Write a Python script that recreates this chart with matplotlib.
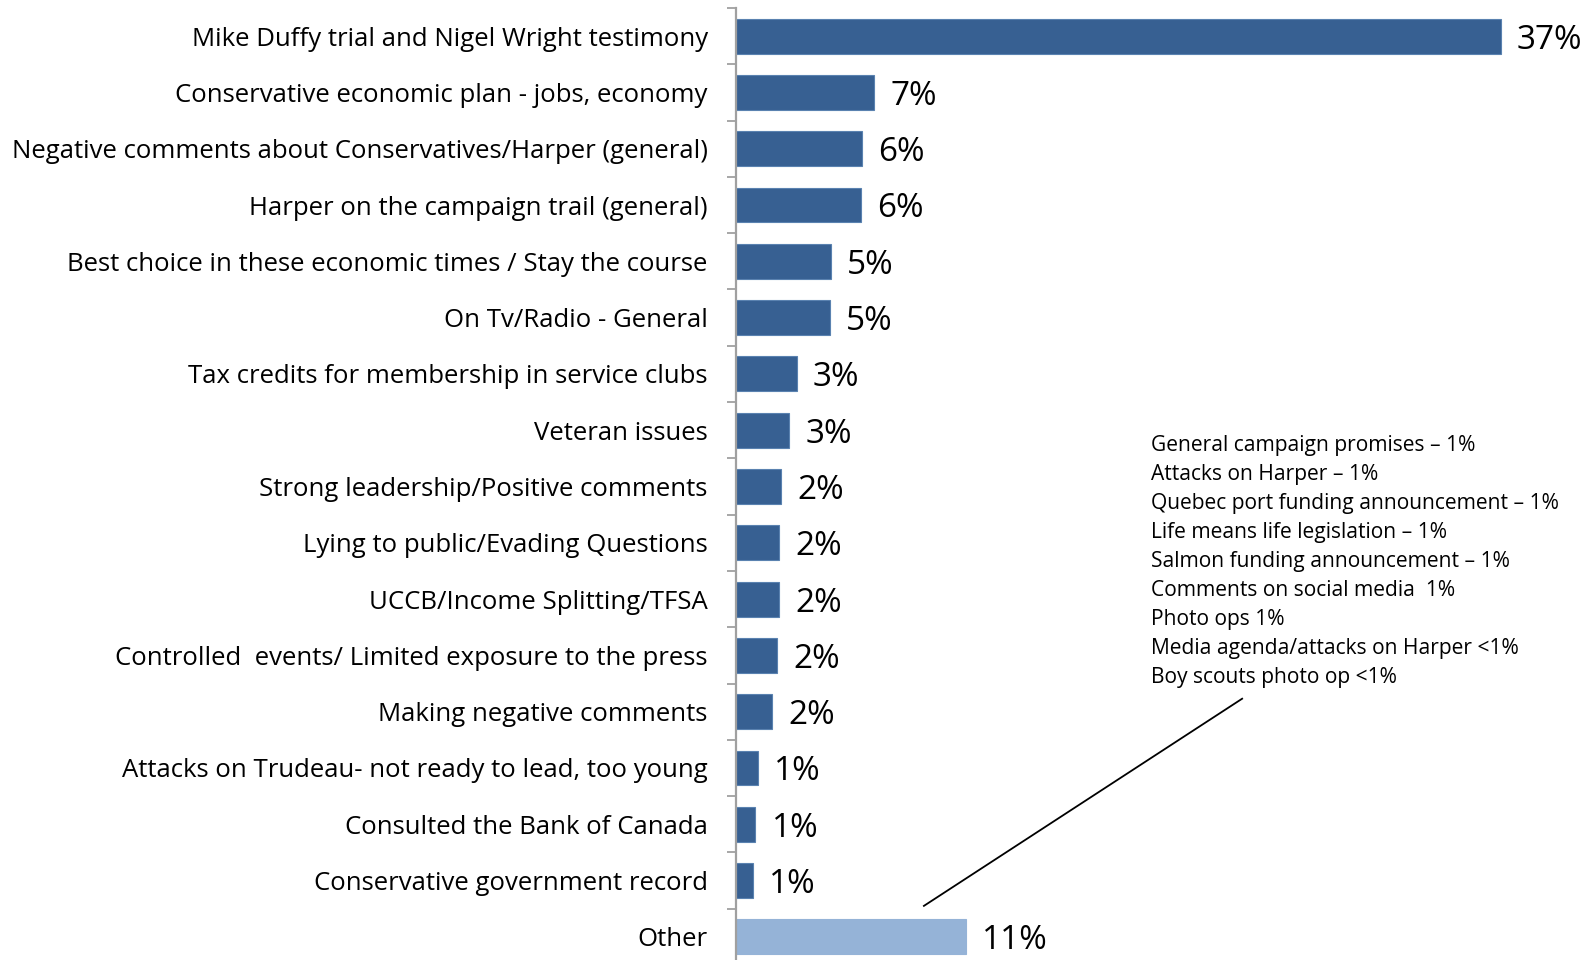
import matplotlib.pyplot as plt
from matplotlib.ticker import FixedLocator

plt.rcParams['font.family'] = ['Open Sans', 'DejaVu Sans']

dark_blue = "#376092"
light_blue = "#95B3D7"

categories = [
    "Mike Duffy trial and Nigel Wright testimony",
    "Conservative economic plan - jobs, economy",
    "Negative comments about Conservatives/Harper (general)",
    "Harper on the campaign trail (general)",
    "Best choice in these economic times / Stay the course",
    "On Tv/Radio - General",
    "Tax credits for membership in service clubs",
    "Veteran issues",
    "Strong leadership/Positive comments",
    "Lying to public/Evading Questions",
    "UCCB/Income Splitting/TFSA",
    "Controlled  events/ Limited exposure to the press",
    "Making negative comments",
    "Attacks on Trudeau- not ready to lead, too young",
    "Consulted the Bank of Canada",
    "Conservative government record",
    "Other",
]
values = [37.0, 6.70, 6.10, 6.05, 4.60, 4.57, 2.96, 2.60, 2.20, 2.12,
          2.10, 2.01, 1.77, 1.07, 0.96, 0.86, 11.15]
value_labels = ["37%", "7%", "6%", "6%", "5%", "5%", "3%", "3%", "2%", "2%",
                "2%", "2%", "2%", "1%", "1%", "1%", "11%"]

other_items = [
    "General campaign promises \u2013 1%",
    "Attacks on Harper \u2013 1%",
    "Quebec port funding announcement \u2013 1%",
    "Life means life legislation \u2013 1%",
    "Salmon funding announcement \u2013 1%",
    "Comments on social media  1%",
    "Photo ops 1%",
    "Media agenda/attacks on Harper <1%",
    "Boy scouts photo op <1%",
]

fig = plt.figure(figsize=(15.89, 9.6), dpi=100)
ax = fig.add_axes([0.4629, -0.0052, 0.5205, 0.9969])

n = len(categories)
ypos = list(range(n))
colors = [dark_blue] * (n - 1) + [light_blue]
edges = ["#5a82b0"] * (n - 1) + [light_blue]
ax.barh(ypos, values, height=0.62, color=colors, edgecolor=edges, linewidth=0.8)

for y, v, lab in zip(ypos, values, value_labels):
    ax.text(v + 0.78, y + 0.07, lab, va='center', ha='left', fontsize=24)

ax.set_xlim(0, 40)
ax.set_ylim(n - 0.5, -0.5)

ax.set_yticks(ypos)
ax.set_yticklabels(categories, fontsize=18.5)
ax.yaxis.set_minor_locator(FixedLocator([i - 0.5 for i in range(n + 1)]))
ax.tick_params(axis='y', which='major', length=0, pad=20)
ax.tick_params(axis='y', which='minor', length=6.5, width=1.3, color='#A0A0A0')
ax.set_xticks([])

for s in ['top', 'right', 'bottom']:
    ax.spines[s].set_visible(False)
ax.spines['left'].set_color('#A0A0A0')
ax.spines['left'].set_linewidth(1.6)

# callout for "Other"
ax.text(20.1, 7.08, "\n".join(other_items), va='top', ha='left',
        fontsize=15.1, linespacing=1.5)
ax.plot([9.11, 24.5], [15.45, 11.77], color='black', linewidth=1.3)

fig.savefig('out.png', dpi=100)
